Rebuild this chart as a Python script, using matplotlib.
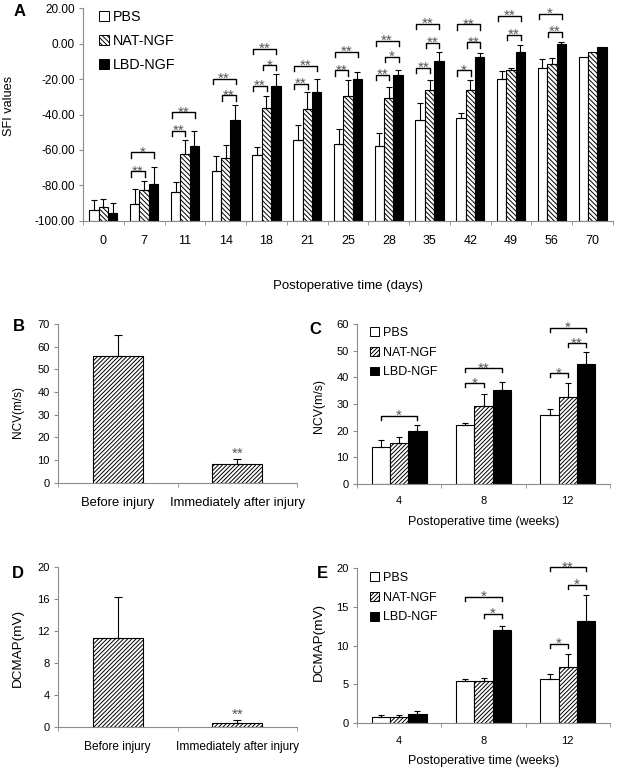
import numpy as np
import matplotlib
matplotlib.use('Agg')
import matplotlib.pyplot as plt
from matplotlib.patches import Patch

plt.rcParams['font.family'] = ['Liberation Sans', 'DejaVu Sans']
plt.rcParams['hatch.linewidth'] = 0.7

# ---- data ----
groups = ['PBS', 'NAT-NGF', 'LBD-NGF']

# A: SFI values
days = ['0', '7', '11', '14', '18', '21', '25', '28', '35', '42', '49', '56', '70']
sfi_pbs = [-93.8, -90.6, -84.0, -72.1, -62.7, -54.4, -56.5, -57.8, -42.9, -42.2, -19.8, -13.6, -7.7]
sfi_pbs_sd = [5.5, 8.5, 6.0, 8.4, 4.3, 8.4, 8.5, 7.1, 9.6, 3.0, 4.4, 4.7, np.nan]
sfi_nat = [-92.3, -82.7, -62.1, -64.6, -36.3, -36.7, -29.6, -30.7, -26.0, -26.0, -14.9, -11.3, -4.5]
sfi_nat_sd = [4.5, 5.3, 7.9, 7.2, 6.5, 9.2, 9.1, 6.2, 5.5, 5.3, 1.2, 3.2, np.nan]
sfi_lbd = [-95.7, -79.3, -57.8, -43.1, -23.9, -27.5, -20.2, -17.7, -9.8, -7.7, -4.5, -0.2, -2.1]
sfi_lbd_sd = [5.9, 9.8, 8.6, 8.6, 6.8, 7.7, 4.2, 2.7, 4.9, 2.6, 3.7, 1.3, np.nan]
# (day index, bar i, bar j, bracket height, label)
sfi_sig = [(1, 0, 1, -72.1, '**'), (1, 0, 2, -61.4, '*'),
           (2, 0, 1, -49.2, '**'), (2, 0, 2, -38.8, '**'),
           (3, 1, 2, -29.2, '**'), (3, 0, 2, -19.8, '**'),
           (4, 0, 1, -23.7, '**'), (4, 1, 2, -12.1, '*'), (4, 0, 2, -2.8, '**'),
           (5, 0, 1, -22.6, '**'), (5, 0, 2, -12.6, '**'),
           (6, 0, 1, -15.1, '**'), (6, 0, 2, -4.7, '**'),
           (7, 0, 1, -17.7, '**'), (7, 1, 2, -7.5, '*'), (7, 0, 2, 1.7, '**'),
           (8, 0, 1, -13.7, '**'), (8, 1, 2, 0.4, '**'), (8, 0, 2, 11.1, '**'),
           (9, 0, 1, -15.1, '*'), (9, 1, 2, 0.75, '**'), (9, 0, 2, 10.9, '**'),
           (10, 1, 2, 5.1, '**'), (10, 0, 2, 15.8, '**'),
           (11, 1, 2, 6.8, '**'), (11, 0, 2, 16.9, '*')]

# B / D: before vs immediately after injury
injury_cats = ['Before injury', 'Immediately after injury']
ncv_injury = [55.7, 8.1]
ncv_injury_sd = [9.3, 2.2]
dcmap_injury = [11.1, 0.45]
dcmap_injury_sd = [5.1, 0.4]

# C / E: weeks
weeks = ['4', '8', '12']
ncv_pbs = [14.0, 22.0, 25.9]
ncv_pbs_sd = [2.4, 1.0, 2.1]
ncv_nat = [15.3, 29.1, 32.5]
ncv_nat_sd = [2.2, 4.7, 5.3]
ncv_lbd = [20.0, 35.1, 45.1]
ncv_lbd_sd = [2.0, 3.0, 4.5]
ncv_sig = [(0, 0, 2, 25.5, '*'),
           (1, 0, 1, 37.8, '*'), (1, 0, 2, 43.4, '**'),
           (2, 0, 1, 41.5, '*'), (2, 1, 2, 52.8, '**'), (2, 0, 2, 58.6, '*')]

dcmap_pbs = [0.73, 5.38, 5.68]
dcmap_pbs_sd = [0.34, 0.35, 0.62]
dcmap_nat = [0.73, 5.38, 7.23]
dcmap_nat_sd = [0.30, 0.47, 1.72]
dcmap_lbd = [1.16, 11.96, 13.2]
dcmap_lbd_sd = [0.34, 0.54, 3.3]
dcmap_sig = [(1, 1, 2, 14.1, '*'), (1, 0, 2, 16.3, '*'),
             (2, 0, 1, 10.2, '*'), (2, 1, 2, 17.85, '*'), (2, 0, 2, 20.1, '**')]

# ---- figure ----
W, H = 617, 775
fig = plt.figure(figsize=(W / 100, H / 100), dpi=100)


def box(l, t, r, b):
    return [l / W, 1 - b / H, (r - l) / W, (b - t) / H]


SPINE = '#8c8c8c'
STAR = '#555555'


def style(ax, ymin, ymax, yticks, fmt, ysize):
    ax.spines[['top', 'right']].set_visible(False)
    for s in ('left', 'bottom'):
        ax.spines[s].set_color(SPINE)
        ax.spines[s].set_linewidth(0.8)
    ax.set_ylim(ymin, ymax)
    ax.set_yticks(yticks)
    ax.set_yticklabels([fmt % v for v in yticks])
    ax.tick_params(axis='y', length=3, color=SPINE, labelsize=ysize, pad=3)
    ax.tick_params(axis='x', which='major', length=0, labelsize=ysize)
    ax.tick_params(axis='x', which='minor', length=3, color=SPINE)


def grouped(ax, series, sds, hatch, bw, ymin, ymax, sig, shift):
    n = len(series[0])
    idx = np.arange(n)
    faces = ['white', 'white', 'black']
    hatches = [None, hatch, None]
    centers = []
    for k in range(3):
        x = idx + (k - 1) * bw
        centers.append(x)
        vals = np.array(series[k])
        ax.bar(x, vals - ymin, bottom=ymin, width=bw, color=faces[k],
               hatch=hatches[k], edgecolor='black', linewidth=0.8, zorder=2)
        sd = np.array(sds[k])
        ok = ~np.isnan(sd)
        ax.errorbar(x[ok], vals[ok], yerr=[np.zeros(ok.sum()), sd[ok]], fmt='none',
                    ecolor='black', elinewidth=0.8, capsize=2.5, capthick=0.8, zorder=3)
    ax.set_xlim(-0.5, n - 0.5)
    ax.set_xticks(idx)
    ax.set_xticks(np.arange(n + 1) - 0.5, minor=True)
    leg = 0.025 * (ymax - ymin)
    for g, i, j, y, lab in sig:
        x1 = centers[i][g] - shift[0] * bw
        x2 = centers[j][g] + shift[1] * bw
        ax.plot([x1, x1, x2, x2], [y - leg, y, y, y - leg], color='black',
                lw=1.0, clip_on=False, zorder=4)
        ax.annotate(lab, ((x1 + x2) / 2, y), xytext=(0, -3), textcoords='offset points',
                    ha='center', va='baseline', fontsize=11, color=STAR,
                    annotation_clip=False)


def legend(ax, hatch, size, spacing, anchor):
    faces = ['white', 'white', 'black']
    hatches = [None, hatch, None]
    handles = [Patch(facecolor=faces[k], edgecolor='black', hatch=hatches[k],
                     linewidth=0.7, label=groups[k]) for k in range(3)]
    ax.legend(handles=handles, loc='upper left', bbox_to_anchor=anchor,
              bbox_transform=fig.transFigure, frameon=False, fontsize=size,
              handlelength=0.7, handleheight=0.7, handletextpad=0.3,
              labelspacing=spacing, borderpad=0, borderaxespad=0)


def single(ax, vals, sds, cats, bw):
    idx = np.arange(len(vals))
    ax.bar(idx, vals, width=bw, color='white', hatch='////////', edgecolor='black',
           linewidth=0.8, zorder=2)
    ax.errorbar(idx, vals, yerr=[np.zeros(len(vals)), sds], fmt='none', ecolor='black',
                elinewidth=0.8, capsize=3, capthick=0.8, zorder=3)
    ax.set_xlim(-0.5, len(vals) - 0.5)
    ax.set_xticks(idx)
    ax.set_xticklabels(cats)
    ax.set_xticks(np.arange(len(vals) + 1) - 0.5, minor=True)
    ax.annotate('**', (1, vals[1] + sds[1]), xytext=(0, 1), textcoords='offset points',
                ha='center', va='baseline', fontsize=11, color=STAR)


# Panel A
axA = fig.add_axes(box(83, 8.3, 613, 220.7))
grouped(axA, [sfi_pbs, sfi_nat, sfi_lbd], [sfi_pbs_sd, sfi_nat_sd, sfi_lbd_sd],
        '\\\\\\\\\\\\\\', 0.23, -100, 20, sfi_sig, (0.4, 0.05))
style(axA, -100, 20, np.arange(-100, 21, 20), '%.2f', 8.5)
axA.set_xticklabels(days)
axA.tick_params(axis='x', which='major', labelsize=9, pad=10)
axA.set_xlabel('Postoperative time (days)', fontsize=9.5, labelpad=24)
axA.set_ylabel('SFI values', fontsize=9.2)
axA.yaxis.set_label_coords(-0.128, 0.54)
legend(axA, '\\\\\\\\\\\\\\', 10.3, 0.7, (99 / W, 1 - 10 / H))

# Panel B
axB = fig.add_axes(box(58, 324, 297, 482.7))
single(axB, ncv_injury, ncv_injury_sd, injury_cats, 0.42)
style(axB, 0, 70, np.arange(0, 71, 10), '%d', 8)
axB.tick_params(axis='x', which='major', labelsize=9.4, pad=10)
axB.set_ylabel('NCV(m/s)', fontsize=8.5)
axB.yaxis.set_label_coords(-0.142, 0.445)

# Panel C
axC = fig.add_axes(box(357, 324, 610, 484))
grouped(axC, [ncv_pbs, ncv_nat, ncv_lbd], [ncv_pbs_sd, ncv_nat_sd, ncv_lbd_sd],
        '////////', 0.217, 0, 60, ncv_sig, (0.0, 0.0))
style(axC, 0, 60, np.arange(0, 61, 10), '%d', 8)
axC.set_xticklabels(weeks)
axC.tick_params(axis='x', which='major', labelsize=8, pad=9)
axC.set_xlabel('Postoperative time (weeks)', fontsize=9, labelpad=7)
axC.set_ylabel('NCV(m/s)', fontsize=8.8)
axC.yaxis.set_label_coords(-0.126, 0.49)
legend(axC, '////////', 9, 0.62, (370 / W, 1 - 327 / H))

# Panel D
axD = fig.add_axes(box(58, 566.7, 297, 726.7))
single(axD, dcmap_injury, dcmap_injury_sd, injury_cats, 0.42)
style(axD, 0, 20, np.arange(0, 21, 4), '%d', 8)
axD.tick_params(axis='x', which='major', labelsize=8.6, pad=10)
axD.set_ylabel('DCMAP(mV)', fontsize=9.7)
axD.yaxis.set_label_coords(-0.142, 0.49)

# Panel E
axE = fig.add_axes(box(357, 568, 610, 723))
grouped(axE, [dcmap_pbs, dcmap_nat, dcmap_lbd], [dcmap_pbs_sd, dcmap_nat_sd, dcmap_lbd_sd],
        '////////', 0.217, 0, 20, dcmap_sig, (0.0, 0.0))
style(axE, 0, 20, np.arange(0, 21, 5), '%d', 8)
axE.set_xticklabels(weeks)
axE.tick_params(axis='x', which='major', labelsize=8, pad=9)
axE.set_xlabel('Postoperative time (weeks)', fontsize=9, labelpad=7)
axE.set_ylabel('DCMAP(mV)', fontsize=9.7)
axE.yaxis.set_label_coords(-0.126, 0.52)
legend(axE, '////////', 9, 0.62, (370 / W, 1 - 572 / H))

for lab, x, y in [('A', 20, 12), ('B', 19, 327), ('C', 315, 330), ('D', 18, 573), ('E', 322, 573)]:
    fig.text(x / W, 1 - y / H, lab, fontsize=12, fontweight='bold', ha='center', va='center')

fig.savefig('out.png', dpi=100)
